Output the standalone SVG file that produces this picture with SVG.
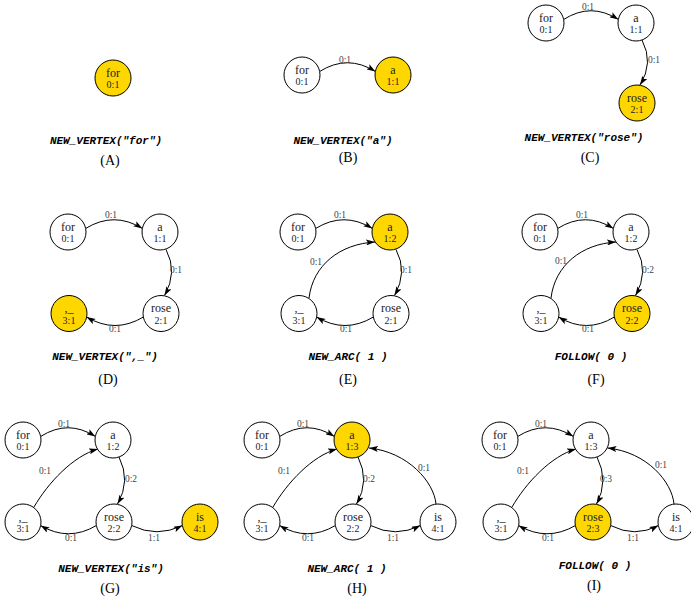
<svg xmlns="http://www.w3.org/2000/svg" width="691" height="598" viewBox="0 0 691 598">
<defs>
<marker id="ah" markerWidth="9" markerHeight="6" refX="9" refY="3" orient="auto" markerUnits="userSpaceOnUse">
<path d="M0,0 L9,3 L0,6 L2,3 z" fill="#000"/>
</marker>
</defs>
<style>
.n circle{fill:#fff;stroke:#000;stroke-width:1}
.n.hl circle{fill:#FFD700}
.n text{font-family:"Liberation Serif",serif;fill:#222;text-anchor:middle}
.nm{font-size:12px}
.ct{font-size:10px}
.edges path{fill:none;stroke:#000;stroke-width:1;marker-end:url(#ah)}
.el{font-family:"Liberation Serif",serif;font-size:9.5px;fill:#444;text-anchor:middle}
.cap{font-family:"Liberation Mono",monospace;font-size:11px;font-weight:bold;font-style:italic;text-anchor:middle;fill:#000}
.let{font-family:"Liberation Serif",serif;font-size:14px;text-anchor:middle;fill:#000}
</style>
<rect width="691" height="598" fill="#fff"/>

<!-- Panel A -->
<g id="A-for" class="n hl"><circle cx="113" cy="78" r="18"/><text class="nm" x="113" y="76.5">for</text><text class="ct" x="113" y="88">0:1</text></g>
<text class="cap" x="106" y="144">NEW_VERTEX("for")</text>
<text class="let" x="110" y="165">(A)</text>

<!-- Panel B -->
<g id="B-edges" class="edges">
<path d="M319.6,71.5 Q347.5,54 375.4,71.5"/>
</g>
<text class="el" x="345" y="63">0:1</text>
<g id="B-for" class="n"><circle cx="302" cy="75" r="18"/><text class="nm" x="302" y="73.5">for</text><text class="ct" x="302" y="85">0:1</text></g>
<g id="B-a" class="n hl"><circle cx="393" cy="75" r="18"/><text class="nm" x="393" y="73.5">a</text><text class="ct" x="393" y="85">1:1</text></g>
<text class="cap" x="343" y="144">NEW_VERTEX("a")</text>
<text class="let" x="348" y="162">(B)</text>

<!-- Panel C -->
<g id="C-edges" class="edges">
<path d="M563.6,19.5 Q591,2 618.4,19.5"/>
<path d="M642,40 Q654,63 640,85"/>
</g>
<text class="el" x="588" y="10">0:1</text>
<text class="el" x="654" y="63">0:1</text>
<g id="C-for" class="n"><circle cx="546" cy="23" r="18"/><text class="nm" x="546" y="21.5">for</text><text class="ct" x="546" y="33">0:1</text></g>
<g id="C-a" class="n"><circle cx="636" cy="23" r="18"/><text class="nm" x="636" y="21.5">a</text><text class="ct" x="636" y="33">1:1</text></g>
<g id="C-rose" class="n hl"><circle cx="637" cy="103" r="18"/><text class="nm" x="637" y="101.5">rose</text><text class="ct" x="637" y="113">2:1</text></g>
<text class="cap" x="584" y="141">NEW_VERTEX("rose")</text>
<text class="let" x="590" y="162">(C)</text>

<!-- Panel D -->
<g id="D-edges" class="edges">
<path d="M85.6,228.5 Q114,211 142.4,228.5"/>
<path d="M166,249.5 Q178,272 164.5,295.5"/>
<path d="M143.4,317 Q115,334 86.6,317"/>
</g>
<text class="el" x="111" y="218">0:1</text>
<text class="el" x="176" y="273">0:1</text>
<text class="el" x="115" y="332">0:1</text>
<g id="D-for" class="n"><circle cx="68" cy="232" r="18"/><text class="nm" x="68" y="230.5">for</text><text class="ct" x="68" y="242">0:1</text></g>
<g id="D-a" class="n"><circle cx="160" cy="232" r="18"/><text class="nm" x="160" y="230.5">a</text><text class="ct" x="160" y="242">1:1</text></g>
<g id="D-rose" class="n"><circle cx="161" cy="313.5" r="18"/><text class="nm" x="161" y="312">rose</text><text class="ct" x="161" y="323.5">2:1</text></g>
<g id="D-comma" class="n hl"><circle cx="69" cy="313.5" r="18"/><text class="nm" x="69" y="312">,_</text><text class="ct" x="69" y="323.5">3:1</text></g>
<text class="cap" x="105" y="360">NEW_VERTEX(",_")</text>
<text class="let" x="108" y="384">(D)</text>

<!-- Panel E -->
<g id="E-edges" class="edges">
<path d="M315.6,228.5 Q344,211 372.4,228.5"/>
<path d="M396,249.5 Q408,272 394.5,295.5"/>
<path d="M373.4,317 Q345,334 316.6,317"/>
<path d="M309,298 C313,265 340,244 375,242"/>
</g>
<text class="el" x="340" y="218">0:1</text>
<text class="el" x="406" y="273">0:1</text>
<text class="el" x="346" y="332">0:1</text>
<text class="el" x="316" y="265">0:1</text>
<g id="E-for" class="n"><circle cx="298" cy="232" r="18"/><text class="nm" x="298" y="230.5">for</text><text class="ct" x="298" y="242">0:1</text></g>
<g id="E-a" class="n hl"><circle cx="390" cy="232" r="18"/><text class="nm" x="390" y="230.5">a</text><text class="ct" x="390" y="242">1:2</text></g>
<g id="E-rose" class="n"><circle cx="391" cy="313.5" r="18"/><text class="nm" x="391" y="312">rose</text><text class="ct" x="391" y="323.5">2:1</text></g>
<g id="E-comma" class="n"><circle cx="299" cy="313.5" r="18"/><text class="nm" x="299" y="312">,_</text><text class="ct" x="299" y="323.5">3:1</text></g>
<text class="cap" x="348" y="360">NEW_ARC( 1 )</text>
<text class="let" x="348" y="384">(E)</text>

<!-- Panel F -->
<g id="F-edges" class="edges">
<path d="M557.6,228.5 Q585.5,211 613.4,228.5"/>
<path d="M637,249.5 Q649,272 635.5,295.5"/>
<path d="M614.4,317 Q586.5,334 558.6,317"/>
<path d="M551,298 C555,265 582,244 616,242"/>
</g>
<text class="el" x="582" y="218">0:1</text>
<text class="el" x="648" y="273">0:2</text>
<text class="el" x="588" y="332">0:1</text>
<text class="el" x="561" y="264">0:1</text>
<g id="F-for" class="n"><circle cx="540" cy="232" r="18"/><text class="nm" x="540" y="230.5">for</text><text class="ct" x="540" y="242">0:1</text></g>
<g id="F-a" class="n"><circle cx="631" cy="232" r="18"/><text class="nm" x="631" y="230.5">a</text><text class="ct" x="631" y="242">1:2</text></g>
<g id="F-rose" class="n hl"><circle cx="632" cy="313.5" r="18"/><text class="nm" x="632" y="312">rose</text><text class="ct" x="632" y="323.5">2:2</text></g>
<g id="F-comma" class="n"><circle cx="541" cy="313.5" r="18"/><text class="nm" x="541" y="312">,_</text><text class="ct" x="541" y="323.5">3:1</text></g>
<text class="cap" x="591" y="360">FOLLOW( 0 )</text>
<text class="let" x="596" y="384">(F)</text>

<!-- Panel G -->
<g id="G-edges" class="edges">
<path d="M40.6,436.5 Q68,419 95.4,436.5"/>
<path d="M119,457 Q131,481 117.5,504"/>
<path d="M96.4,525.5 Q68.5,542 40.6,525.5"/>
<path d="M34,507 C48,483 73,456 98,449"/>
<path d="M131.6,525.5 Q157,538 182.4,525.5"/>
</g>
<text class="el" x="64" y="427">0:1</text>
<text class="el" x="131" y="482">0:2</text>
<text class="el" x="71" y="541">0:1</text>
<text class="el" x="45" y="474">0:1</text>
<text class="el" x="154" y="541">1:1</text>
<g id="G-for" class="n"><circle cx="23" cy="440" r="18"/><text class="nm" x="23" y="438.5">for</text><text class="ct" x="23" y="450">0:1</text></g>
<g id="G-a" class="n"><circle cx="113" cy="440" r="18"/><text class="nm" x="113" y="438.5">a</text><text class="ct" x="113" y="450">1:2</text></g>
<g id="G-rose" class="n"><circle cx="114" cy="522" r="18"/><text class="nm" x="114" y="520.5">rose</text><text class="ct" x="114" y="532">2:2</text></g>
<g id="G-comma" class="n"><circle cx="23" cy="522" r="18"/><text class="nm" x="23" y="520.5">,_</text><text class="ct" x="23" y="532">3:1</text></g>
<g id="G-is" class="n hl"><circle cx="200" cy="522" r="18"/><text class="nm" x="200" y="520.5">is</text><text class="ct" x="200" y="532">4:1</text></g>
<text class="cap" x="111" y="572">NEW_VERTEX("is")</text>
<text class="let" x="110" y="593">(G)</text>

<!-- Panel H -->
<g id="H-edges" class="edges">
<path d="M279.6,436.5 Q307,419 334.4,436.5"/>
<path d="M358,457 Q370,481 356.5,504"/>
<path d="M335.4,525.5 Q307.5,542 279.6,525.5"/>
<path d="M273,507 C287,483 312,456 337,449"/>
<path d="M370.6,525.5 Q395.5,538 420.4,525.5"/>
<path d="M436,504 C434,482 408,452 369,448"/>
</g>
<text class="el" x="303" y="427">0:1</text>
<text class="el" x="369" y="482">0:2</text>
<text class="el" x="308" y="541">0:1</text>
<text class="el" x="284" y="474">0:1</text>
<text class="el" x="393" y="541">1:1</text>
<text class="el" x="424" y="471">0:1</text>
<g id="H-for" class="n"><circle cx="262" cy="440" r="18"/><text class="nm" x="262" y="438.5">for</text><text class="ct" x="262" y="450">0:1</text></g>
<g id="H-a" class="n hl"><circle cx="352" cy="440" r="18"/><text class="nm" x="352" y="438.5">a</text><text class="ct" x="352" y="450">1:3</text></g>
<g id="H-rose" class="n"><circle cx="353" cy="522" r="18"/><text class="nm" x="353" y="520.5">rose</text><text class="ct" x="353" y="532">2:2</text></g>
<g id="H-comma" class="n"><circle cx="262" cy="522" r="18"/><text class="nm" x="262" y="520.5">,_</text><text class="ct" x="262" y="532">3:1</text></g>
<g id="H-is" class="n"><circle cx="438" cy="522" r="18"/><text class="nm" x="438" y="520.5">is</text><text class="ct" x="438" y="532">4:1</text></g>
<text class="cap" x="347" y="572">NEW_ARC( 1 )</text>
<text class="let" x="357" y="593">(H)</text>

<!-- Panel I -->
<g id="I-edges" class="edges">
<path d="M517.6,436.5 Q545.5,419 573.4,436.5"/>
<path d="M597,457 Q609,481 596.5,504"/>
<path d="M575.4,525.5 Q547,542 518.6,525.5"/>
<path d="M512,507 C526,483 551,456 576,449"/>
<path d="M610.6,525.5 Q635,538 658.4,525.5"/>
<path d="M674,504 C672,482 647,452 607.5,448"/>
</g>
<text class="el" x="541" y="427">0:1</text>
<text class="el" x="606" y="482">0:3</text>
<text class="el" x="548" y="541">0:1</text>
<text class="el" x="523" y="474">0:1</text>
<text class="el" x="633" y="541">1:1</text>
<text class="el" x="661" y="468">0:1</text>
<g id="I-for" class="n"><circle cx="500" cy="440" r="18"/><text class="nm" x="500" y="438.5">for</text><text class="ct" x="500" y="450">0:1</text></g>
<g id="I-a" class="n"><circle cx="591" cy="440" r="18"/><text class="nm" x="591" y="438.5">a</text><text class="ct" x="591" y="450">1:3</text></g>
<g id="I-rose" class="n hl"><circle cx="593" cy="522" r="18"/><text class="nm" x="593" y="520.5">rose</text><text class="ct" x="593" y="532">2:3</text></g>
<g id="I-comma" class="n"><circle cx="501" cy="522" r="18"/><text class="nm" x="501" y="520.5">,_</text><text class="ct" x="501" y="532">3:1</text></g>
<g id="I-is" class="n"><circle cx="676" cy="522" r="18"/><text class="nm" x="676" y="520.5">is</text><text class="ct" x="676" y="532">4:1</text></g>
<text class="cap" x="595" y="569">FOLLOW( 0 )</text>
<text class="let" x="594" y="590">(I)</text>
</svg>
